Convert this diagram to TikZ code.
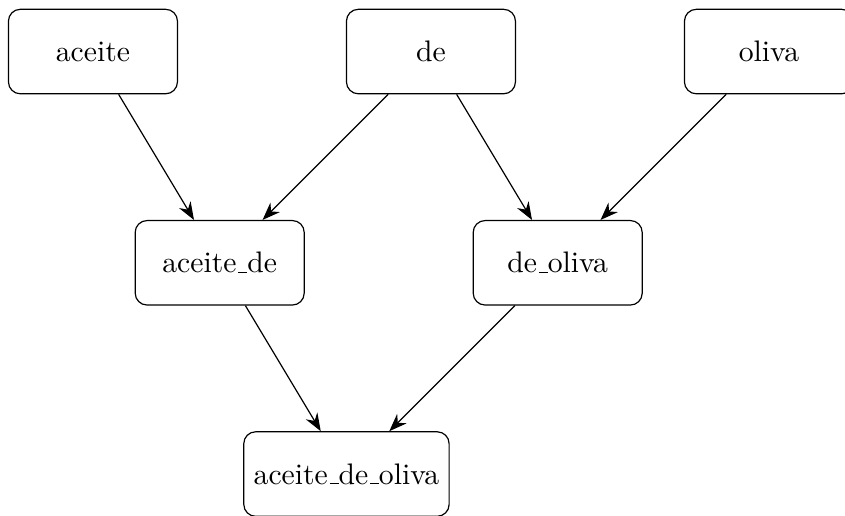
\documentclass[tikz,border=0pt]{standalone}
\usetikzlibrary{arrows.meta}
\newcommand\usc{\leavevmode\kern.06em\vbox{\hrule width.3em}}
\begin{document}
\begin{tikzpicture}[
  word/.style={draw, rounded corners=4pt, minimum width=2cm, minimum height=1cm},
  link/.style={-{Stealth[length=6pt,width=4.5pt]}}
]
\useasboundingbox (-1.1,-5.485) rectangle (8.9,0.61);
\node[word] (aceite) at (0,0) {aceite};
\node[word] (de) at (4,0) {de};
\node[word] (oliva) at (8,0) {oliva};
\node[word] (aceitede) at (1.5,-2.5) {aceite\usc de};
\node[word] (deoliva) at (5.5,-2.5) {de\usc oliva};
\node[word] (aceitedeoliva) at (3,-5) {aceite\usc de\usc oliva};
\draw[link] (aceite) -- (aceitede);
\draw[link] (de) -- (aceitede);
\draw[link] (de) -- (deoliva);
\draw[link] (oliva) -- (deoliva);
\draw[link] (aceitede) -- (aceitedeoliva);
\draw[link] (deoliva) -- (aceitedeoliva);
\end{tikzpicture}
\end{document}
